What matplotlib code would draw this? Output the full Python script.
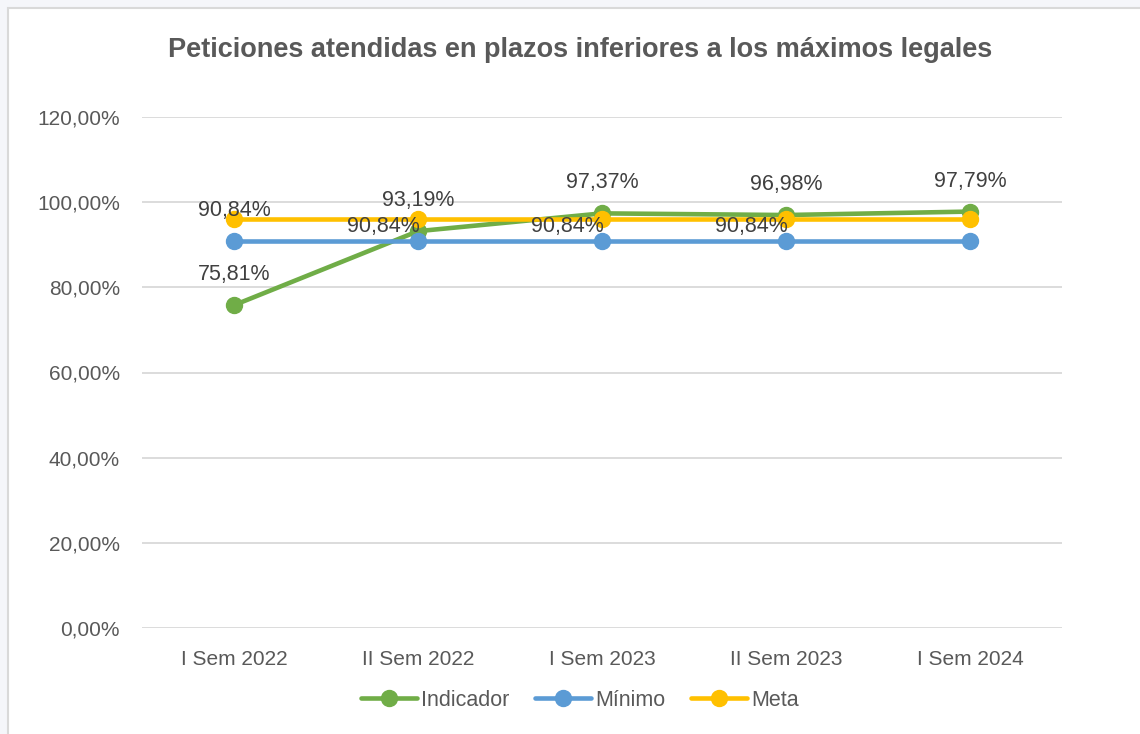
import matplotlib
matplotlib.use("Agg")
import matplotlib.pyplot as plt
from matplotlib.patches import Rectangle
import numpy as np

categories = ["I Sem 2022", "II Sem 2022", "I Sem 2023", "II Sem 2023", "I Sem 2024"]
indicador = [75.81, 93.19, 97.37, 96.98, 97.79]
minimo = [90.84, 90.84, 90.84, 90.84, 90.84]
meta = [96.0, 96.0, 96.0, 96.0, 96.0]

def fmt(v):
    return f"{v:.2f}".replace(".", ",") + "%"

plt.rcParams["font.family"] = ["Liberation Sans", "DejaVu Sans"]

fig = plt.figure(figsize=(11.4, 7.34), dpi=100)
fig.patch.set_facecolor("#F5F6FA")
# white chart box with thin border
fig.patches.append(Rectangle((8 / 1140, -0.1), 1.2, 1 - 8 / 734 + 0.1,
                             transform=fig.transFigure, facecolor="white",
                             edgecolor="#D9D9D9", linewidth=1.5, zorder=-5))

ax = fig.add_axes([142 / 1140, 1 - 628 / 734, 920 / 1140, 511 / 734])
ax.set_zorder(2)
ax.set_facecolor("none")
x = np.arange(len(categories))

series = [("Indicador", indicador, "#70AD47"),
          ("Mínimo", minimo, "#5B9BD5"),
          ("Meta", meta, "#FFC000")]
for name, vals, color in series:
    ax.plot(x, vals, color=color, linewidth=3.3, marker="o", markersize=11.5,
            label=name, solid_capstyle="round", zorder=3)

for i, v in enumerate(indicador):
    ax.annotate(fmt(v), (x[i], v), xytext=(0, 22), textcoords="offset points",
                ha="center", va="center", fontsize=15.5, color="#404040", zorder=5)

for i, v in enumerate(minimo[:4]):
    if i == 0:
        off = (0, 22)
    else:
        off = (-25, 10.5)
    ax.annotate(fmt(v), (x[i], v), xytext=off, textcoords="offset points",
                ha="center", va="center", fontsize=15.5, color="#404040", zorder=5)

ax.set_xlim(-0.5, len(categories) - 0.5)
ax.set_ylim(0, 120)
ax.set_yticks(np.arange(0, 121, 20))
ax.set_yticklabels([fmt(t) for t in np.arange(0, 121, 20)])
ax.set_xticks(x)
ax.set_xticklabels(categories)
ax.tick_params(axis="both", length=0, labelsize=15, colors="#595959")
ax.tick_params(axis="y", pad=16)
ax.tick_params(axis="x", pad=16)
ax.grid(axis="y", color="#D9D9D9", linewidth=1.3)
ax.set_axisbelow(True)
for s in ax.spines.values():
    s.set_visible(False)

fig.text(0.509, 1 - 50 / 734, "Peticiones atendidas en plazos inferiores a los máximos legales",
         ha="center", va="center", fontsize=19.5, fontweight="bold", color="#595959")

fig.legend(loc="center", bbox_to_anchor=(580 / 1140, 1 - 700 / 734), ncol=3,
           frameon=False, fontsize=15.5, handlelength=2.6, handletextpad=0.2,
           columnspacing=1.2, labelcolor="#595959")

fig.savefig("out.png", dpi=100, facecolor=fig.get_facecolor())
